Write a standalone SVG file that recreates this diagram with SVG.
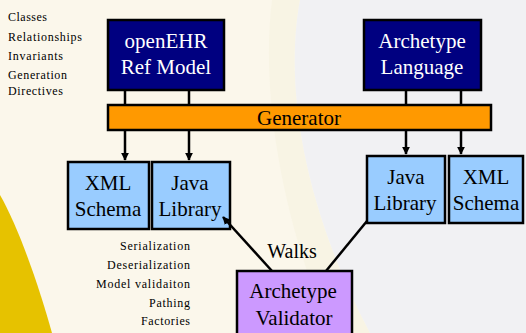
<svg xmlns="http://www.w3.org/2000/svg" width="526" height="333" viewBox="0 0 526 333">
<defs>
<style>
.dark{fill:#000080;stroke:#000;stroke-width:2.5}
.blue{fill:#99ccff;stroke:#000;stroke-width:2.5}
.purple{fill:#cc99ff;stroke:#000;stroke-width:2.5}
.gen{fill:#ff9900;stroke:#000;stroke-width:2.5}
.t{font-size:21px;text-anchor:middle}
.w{fill:#fff}
.k{fill:#000}
.s{font-size:12px;fill:#000}
.c line{stroke:#000;stroke-width:2.5;fill:none}
</style>
<marker id="ah" viewBox="0 0 10 10" refX="9" refY="5" markerWidth="3.2" markerHeight="3.2" orient="auto" markerUnits="strokeWidth">
<path d="M0,0 L10,5 L0,10 z" fill="#000"/>
</marker>
</defs>
<rect width="526" height="333" fill="#fbf7eb"/>
<path d="M272,0 C262,80 275,200 330,333 L370,333 C300,200 285,80 300,0 Z" fill="#f8f4e4"/>
<path d="M300,0 C285,80 300,200 370,333 L526,333 L526,0 Z" fill="#f1f1f3"/>
<path d="M0,195 C20,230 40,290 52,333 L0,333 Z" fill="#e6c200"/>
<g font-family="Liberation Serif, DejaVu Serif, Times New Roman, serif">
<g id="left-notes" class="s">
<text x="8" y="21" textLength="39" lengthAdjust="spacing">Classes</text>
<text x="8" y="41" textLength="74" lengthAdjust="spacing">Relationships</text>
<text x="8" y="60" textLength="55" lengthAdjust="spacing">Invariants</text>
<text x="8" y="79" textLength="59" lengthAdjust="spacing">Generation</text>
<text x="8" y="95" textLength="55" lengthAdjust="spacing">Directives</text>
</g>
<g id="lib-notes" class="s" text-anchor="end">
<text x="190" y="250" textLength="70" lengthAdjust="spacing">Serialization</text>
<text x="190" y="269" textLength="83" lengthAdjust="spacing">Deserialization</text>
<text x="190" y="288" textLength="94" lengthAdjust="spacing">Model validaiton</text>
<text x="190" y="307" textLength="41" lengthAdjust="spacing">Pathing</text>
<text x="190" y="325" textLength="49" lengthAdjust="spacing">Factories</text>
</g>
<g id="openehr">
<rect class="dark" x="108" y="20" width="116" height="70"/>
<text class="t w" x="166" y="48">openEHR</text>
<text class="t w" x="166" y="74">Ref Model</text>
</g>
<g id="archetype-language">
<rect class="dark" x="364" y="20" width="117" height="70"/>
<text class="t w" x="422" y="48">Archetype</text>
<text class="t w" x="422" y="74">Language</text>
</g>
<g id="generator">
<rect class="gen" x="108" y="105" width="383" height="25"/>
<text class="t k" x="299" y="125">Generator</text>
</g>
<g id="xml-left">
<rect class="blue" x="68" y="162" width="81" height="67"/>
<text class="t k" x="108" y="190">XML</text>
<text class="t k" x="108" y="216">Schema</text>
</g>
<g id="java-left">
<rect class="blue" x="152" y="162" width="78" height="67"/>
<text class="t k" x="190" y="190">Java</text>
<text class="t k" x="190" y="216">Library</text>
</g>
<g id="java-right">
<rect class="blue" x="367" y="156" width="78" height="67"/>
<text class="t k" x="406" y="184">Java</text>
<text class="t k" x="405" y="210">Library</text>
</g>
<g id="xml-right">
<rect class="blue" x="449" y="156" width="74" height="67"/>
<text class="t k" x="486" y="184">XML</text>
<text class="t k" x="486" y="210">Schema</text>
</g>
<g id="validator">
<rect class="purple" x="237" y="271" width="115" height="70"/>
<text class="t k" x="293" y="298">Archetype</text>
<text class="t k" x="294" y="325">Validator</text>
</g>
<g class="c" id="connectors">
<line x1="125" y1="90" x2="125" y2="105"/>
<line x1="189" y1="90" x2="189" y2="105"/>
<line x1="406" y1="90" x2="406" y2="105"/>
<line x1="461" y1="90" x2="461" y2="105"/>
<line x1="125" y1="130" x2="125" y2="160" marker-end="url(#ah)"/>
<line x1="189" y1="130" x2="189" y2="160" marker-end="url(#ah)"/>
<line x1="406" y1="130" x2="406" y2="154" marker-end="url(#ah)"/>
<line x1="461" y1="130" x2="461" y2="154" marker-end="url(#ah)"/>
<line x1="272" y1="271" x2="223" y2="217" marker-end="url(#ah)"/>
<line x1="326" y1="271" x2="367" y2="221"/>
<text x="292" y="258" class="t k" style="font-size:20px">Walks</text>
</g>
</g>
</svg>
